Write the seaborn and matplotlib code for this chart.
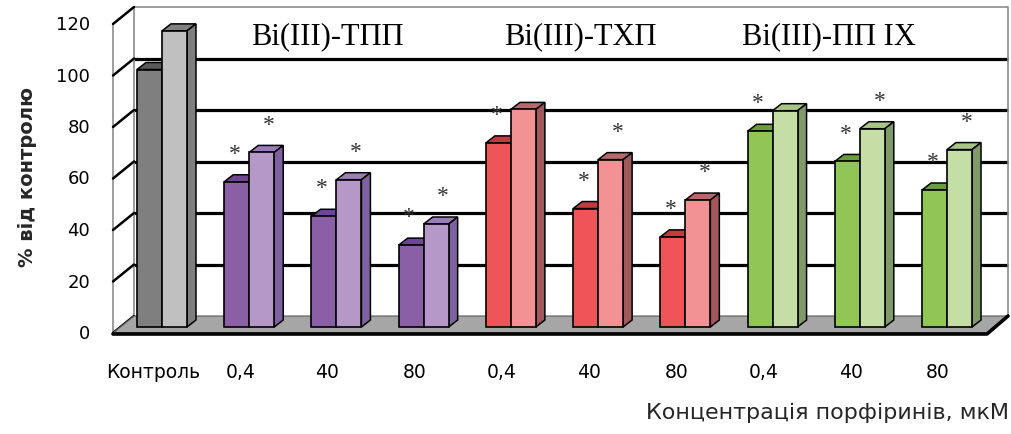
import numpy as np
import pandas as pd
import seaborn as sns
import matplotlib.pyplot as plt
from matplotlib.patches import Polygon, Rectangle

# data
categories = ["Контроль", "ТПП 0,4", "ТПП 40", "ТПП 80", "ТХП 0,4", "ТХП 40", "ТХП 80",
              "ПП 0,4", "ПП 40", "ПП 80"]
tick_labels = ["Контроль", "0,4", "40", "80", "0,4", "40", "80", "0,4", "40", "80"]
groups = ["control", "tpp", "tpp", "tpp", "thp", "thp", "thp", "pp", "pp", "pp"]
dark_values = [100, 56.4, 43, 31.8, 71.5, 46, 35, 76, 64.3, 53.2]
light_values = [115, 67.8, 57.2, 40, 84.5, 65, 49.3, 84, 77, 68.9]
sig_dark = [0, 1, 1, 1, 1, 1, 1, 1, 1, 1]
sig_light = [0, 1, 1, 1, 0, 1, 1, 0, 1, 1]
y_ticks = [0, 20, 40, 60, 80, 100, 120]
group_titles = ["Bi(III)-ТПП", "Bi(III)-ТХП", "Bi(III)-ПП IX"]
title_centers = [1.9, 4.8, 7.65]

# (front, top, side) colours for dark and light bar of each group
colors = {
    "control": [("#7f7f7f", "#5a5a5a", "#5a5a5a"), ("#c0c0c0", "#808080", "#7f7f7f")],
    "tpp": [("#8b5fa6", "#6f4790", "#6f4790"), ("#b598c8", "#9b7db9", "#7f60a0")],
    "thp": [("#ef5558", "#c23b3e", "#c23b3e"), ("#f29294", "#b8696b", "#a0585a")],
    "pp": [("#8fc655", "#6a9b3d", "#6a9b3d"), ("#c4dea6", "#a8c487", "#7f9a68")],
}

df = pd.DataFrame({
    "cat": categories * 2,
    "value": dark_values + light_values,
    "series": ["dark"] * len(categories) + ["light"] * len(categories),
})

sns.set_theme(style="white")
plt.rcParams["font.family"] = ["DejaVu Sans"]

W, H = 1011, 435
fig = plt.figure(figsize=(W / 100, H / 100), dpi=100)
ax_left, ax_right = 121, 995          # bar plane, pixels
y0_px, ppu_y = 328, 2.575              # pixel row of value 0, pixels per unit
xlim = (-0.47, 9.55)
ylim = (-3, 124)
bottom_px = y0_px - ylim[0] * ppu_y
top_px = y0_px - ylim[1] * ppu_y
ax = fig.add_axes([ax_left / W, (H - bottom_px) / H, (ax_right - ax_left) / W, (bottom_px - top_px) / H])

sns.barplot(data=df, x="cat", y="value", hue="series", order=categories,
            hue_order=["dark", "light"], width=0.573, gap=0, dodge=True,
            legend=False, errorbar=None, saturation=1, ax=ax,
            edgecolor="black", linewidth=1.2)
ax.set_xlim(*xlim)
ax.set_ylim(*ylim)
ax.axis("off")

px_x = (ax_right - ax_left) / (xlim[1] - xlim[0])
px_y = ppu_y


def dx(p):
    return p / px_x


def dy(p):
    return p / px_y


x0, x1 = xlim
bdx, bdy = dx(13), dy(11)     # back wall offset
fdx, fdy = dx(-8), dy(-6)     # front edge offset
cdx, cdy = dx(9), dy(7)       # bar depth

# back wall
ax.add_patch(Rectangle((x0 + bdx, bdy), x1 - x0, 120, facecolor="white",
                       edgecolor="none", zorder=0, clip_on=False))
for v in y_ticks[1:-1]:
    ax.plot([x0 + bdx, x1 + bdx], [v + bdy] * 2, color="black", lw=2.3,
            zorder=0.5, clip_on=False, solid_capstyle="butt")
ax.plot([x0 + bdx, x0 + bdx, x1 + bdx, x1 + bdx], [bdy, 120 + bdy, 120 + bdy, bdy],
        color="#8c8c8c", lw=1.2, zorder=0.6, clip_on=False)

# left wall
ax.plot([x0 + fdx, x0 + fdx], [fdy, 120 + fdy], color="#8c8c8c", lw=1.2,
        zorder=0.6, clip_on=False)
for v in y_ticks:
    ax.plot([x0 + fdx, x0 + bdx], [v + fdy, v + bdy], color="black", lw=1.8,
            zorder=0.7, clip_on=False)
    ax.text(x0 + fdx - dx(23), v + fdy, str(v), ha="right", va="center",
            fontsize=13, color="black")

# floor
ax.add_patch(Polygon([(x0 + fdx, fdy), (x1 + fdx, fdy), (x1 + bdx, bdy), (x0 + bdx, bdy)],
                     closed=True, facecolor="#a6a6a6", edgecolor="#595959",
                     lw=0.8, zorder=1, clip_on=False))
ax.plot([x0 + fdx, x1 + fdx, x1 + bdx], [fdy - dy(1), fdy - dy(1), bdy],
        color="black", lw=2.6, zorder=1.1, clip_on=False)

# 3d bars
for p in ax.patches:
    if not hasattr(p, "get_height") or p.get_width() > 1 or p.get_height() <= 0:
        continue
    cx = p.get_x() + p.get_width() / 2
    idx = int(round(cx))
    if idx < 0 or idx >= len(categories) or p.get_height() > 200:
        continue
    s = 0 if cx < idx else 1
    front, top, side = colors[groups[idx]][s]
    z = 3 + s
    p.set_facecolor(front)
    p.set_zorder(z)
    bx0, bx1, h = p.get_x(), p.get_x() + p.get_width(), p.get_height()
    ax.add_patch(Polygon([(bx0, h), (bx1, h), (bx1 + cdx, h + cdy), (bx0 + cdx, h + cdy)],
                         closed=True, facecolor=top, edgecolor="black", lw=1.1,
                         zorder=z - 0.1, clip_on=False))
    ax.add_patch(Polygon([(bx1, 0), (bx1, h), (bx1 + cdx, h + cdy), (bx1 + cdx, cdy)],
                         closed=True, facecolor=side, edgecolor="black", lw=1.1,
                         zorder=z - 0.1, clip_on=False))
    sig = sig_dark if s == 0 else sig_light
    if sig[idx]:
        off = -dx(2) if s == 0 else dx(7)
        ax.text(cx + off, h + 11, "*", ha="center", va="center", fontsize=17,
                family="Liberation Serif", color="#333333", zorder=6)

# category labels
label_y = (y0_px - 373) / ppu_y
for i, lab in enumerate(tick_labels):
    ax.text(i - dx(9), label_y, lab, ha="center", va="center",
            fontsize=13.5, color="black")

for t, c in zip(group_titles, title_centers):
    ax.text(c, (y0_px - 37) / ppu_y, t, ha="center", va="center", fontsize=22,
            family="Liberation Serif", color="black", zorder=0.8)

fig.text(28 / W, 1 - 177 / H, "% від контролю", rotation=90, ha="center",
         va="center", fontsize=14, fontweight="bold")
fig.text(1009 / W, 1 - 413 / H, "Концентрація порфіринів, мкМ", ha="right",
         va="center", fontsize=16)

fig.savefig("out.png", dpi=100)
